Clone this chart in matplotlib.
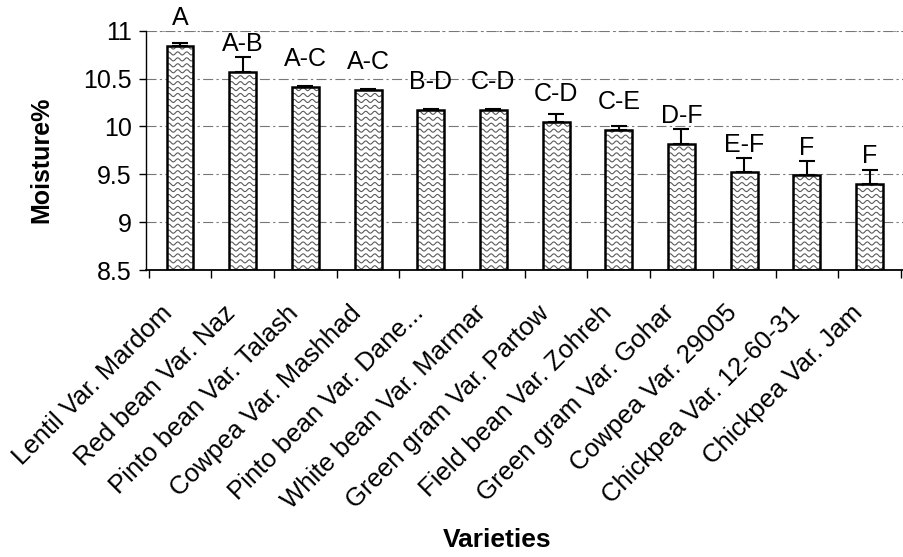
import matplotlib
matplotlib.use("Agg")
import matplotlib.pyplot as plt
import matplotlib.transforms as mtransforms
import numpy as np

plt.rcParams["font.family"] = ["Liberation Sans", "DejaVu Sans"]

varieties = [
  "Lentil Var. Mardom",
  "Red bean Var. Naz",
  "Pinto bean Var. Talash",
  "Cowpea Var. Mashhad",
  "Pinto bean Var. Dane...",
  "White bean Var. Marmar",
  "Green gram Var. Partow",
  "Field bean Var. Zohreh",
  "Green gram Var. Gohar",
  "Cowpea Var. 29005",
  "Chickpea Var. 12-60-31",
  "Chickpea Var. Jam",
]
moisture = [10.84, 10.57, 10.41, 10.38, 10.17, 10.17, 10.05, 9.96, 9.82, 9.52, 9.49, 9.40]
errors = [0.03, 0.15, 0.01, 0.01, 0.01, 0.01, 0.08, 0.04, 0.15, 0.15, 0.15, 0.15]
groups = ["A", "A-B", "A-C", "A-C", "B-D", "C-D", "C-D", "C-E", "D-F", "E-F", "F", "F"]
y_ticks = [8.5, 9, 9.5, 10, 10.5, 11]
y_tick_labels = ["8.5", "9", "9.5", "10", "10.5", "11"]

fig = plt.figure(figsize=(9.04, 5.57), dpi=100)
ax = fig.add_axes([0.161, 0.515, 0.839, 0.43])
base = 8.5
x = np.arange(len(varieties))
heights = np.array(moisture) - base

fills = ax.bar(x, heights, width=0.43, bottom=base, color="white",
               linewidth=0, zorder=2)
ax.bar(x, heights, width=0.43, bottom=base, fill=False,
       edgecolor="black", linewidth=1.8, zorder=3)

# wavy texture inside each bar (Excel-style fill)
for rect in fills:
  x0 = rect.get_x()
  w = rect.get_width()
  xs = np.linspace(x0, x0 + w, 80)
  for level in np.arange(base + 0.03, rect.get_y() + rect.get_height(), 0.062):
    ys = level + 0.016 * np.sin((xs - x0) / w * 2 * np.pi * 3)
    line, = ax.plot(xs, ys, color="#5a5a5a", linewidth=0.8, zorder=2.5)
    line.set_clip_path(rect)

ax.errorbar(x, moisture, yerr=[np.zeros(len(errors)), errors], fmt="none",
            ecolor="black", elinewidth=1.5, capsize=6, capthick=1.5, zorder=4)

# group letters sit a fixed distance above each mean
for xi, val, label in zip(x, moisture, groups):
  ax.annotate(label, (xi, val), xytext=(0, 20), textcoords="offset points",
              ha="center", va="center", fontsize=18)

ax.set_ylim(8.5, 11)
ax.set_xlim(-0.55, len(varieties) - 0.45)
ax.set_yticks(y_ticks, y_tick_labels, fontsize=18)
ax.yaxis.grid(True, linestyle=(0, (9, 3, 2, 3)), color="#777777", linewidth=0.8, zorder=0)
ax.axhline(11, linestyle=(0, (3, 5)), color="#999999", linewidth=0.7, zorder=0)

# category names, rotated and ending just left of each bar
ax.set_xticks(x, [""] * len(varieties))
label_trans = ax.get_xaxis_transform() + mtransforms.ScaledTranslation(
  -14 / 72, -22 / 72, fig.dpi_scale_trans)
for xi, name in zip(x, varieties):
  ax.text(xi, 0, name, transform=label_trans, rotation=45, ha="right", va="top",
          rotation_mode="anchor", fontsize=18.5)
ax.set_xticks(np.arange(len(varieties) + 1) - 0.5, minor=True)
ax.tick_params(axis="x", which="major", length=0)
ax.tick_params(axis="x", which="minor", length=6, width=1, direction="out")
ax.tick_params(axis="y", length=5, width=1, direction="out", pad=5)

for side in ("top", "right"):
  ax.spines[side].set_visible(False)
ax.spines["left"].set_linewidth(1)
ax.spines["bottom"].set_linewidth(1.3)

ax.set_ylabel("Moisture%", fontsize=18, fontweight="bold")
ax.yaxis.set_label_coords(-0.122, 0.46)
fig.text(0.55, 0.03, "Varieties", ha="center", va="center", fontsize=19, fontweight="bold")

fig.savefig("out.png", dpi=100)
